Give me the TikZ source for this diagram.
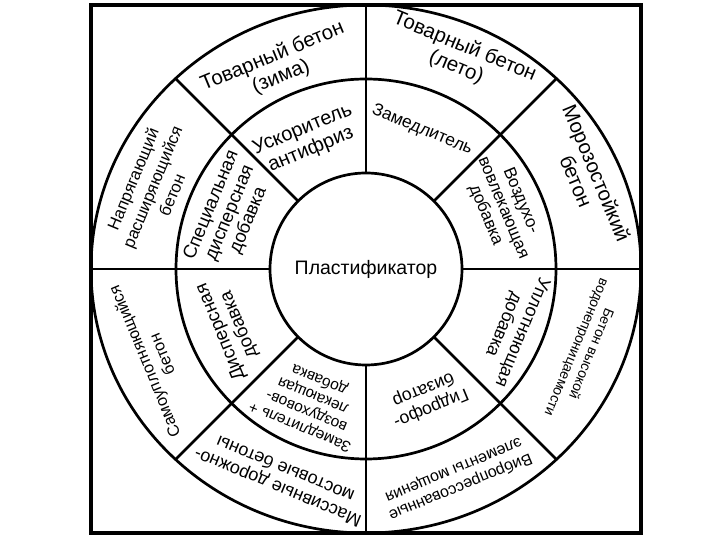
\documentclass[tikz,border=0pt]{standalone}
\usepackage{fontspec}
\setmainfont{Liberation Sans}
\newcommand{\fs}[2]{\fontsize{#1}{#2}\selectfont}
\begin{document}
\begin{tikzpicture}[x=1pt,y=1pt,
  ln/.style={line width=2.7pt},
  frame/.style={line width=3.6pt},
  lbl/.style={align=center, inner sep=0pt}]
\useasboundingbox (0,0) rectangle (720,540);
\coordinate (O) at (366,271);
\coordinate (fl) at (91,271);
\coordinate (fr) at (641,271);
\coordinate (ft) at (366,535);
\coordinate (fb) at (366,7);
% frame and rings
\draw[frame] (91,7) rectangle (641,535);
\draw[ln] (O) ellipse [x radius=275, y radius=264];
\draw[ln] (O) circle [radius=190];
\draw[ln] (O) circle [radius=96];
% radial dividers
\foreach \a in {45,135,225,315}
  \draw[ln] ([shift={(\a:96)}]O) -- ([shift={(\a:269.3)}]O);
\draw[ln] ([shift={(0:96)}]O) -- (fr);
\draw[ln] ([shift={(90:96)}]O) -- (ft);
\draw[ln] ([shift={(180:96)}]O) -- (fl);
\draw[ln] ([shift={(270:96)}]O) -- (fb);
% centre
\node[lbl, font=\fs{19.5}{21}] (c) at (O) {Пластификатор};
% outer ring
\node[lbl, rotate=22.5, font=\fs{20.5}{22}] (t1) at ([shift={(113.8:221)}]O) {Товарный бетон\\(зима)};
\node[lbl, rotate=-22.5, font=\fs{20.5}{22}] (t2) at ([shift={(66:232)}]O) {Товарный бетон\\(лето)};
\node[lbl, rotate=-67.5, font=\fs{20.5}{22}] (t3) at ([shift={(22.6:239)}]O) {Морозостойкий\\бетон};
\node[lbl, rotate=-112.5, font=\fs{14}{16}] (t4) at ([shift={(-20.5:232)}]O) {Бетон высокой\\водонепроницаемости};
\node[lbl, rotate=-157.5, font=\fs{16}{18}] (t5) at ([shift={(-66.5:228)}]O) {Вибропрессованные\\элементы мощения};
\node[lbl, rotate=157.5, font=\fs{18}{20}] (t6) at ([shift={(-112:226)}]O) {Массивные дорожно-\\мостовые бетоны};
\node[lbl, rotate=112.5, font=\fs{16.3}{19}] (t7) at ([shift={(202.7:231)}]O) {Самоуплотняющийся\\бетон};
\node[lbl, rotate=67.5, font=\fs{16.7}{21}] (t8) at ([shift={(159:229)}]O) {Напрягающий\\расширяющийся\\бетон};
% inner ring
\node[lbl, rotate=22.5, font=\fs{20}{22}] (t9) at ([shift={(114.6:142)}]O) {Ускоритель\\антифриз};
\node[lbl, rotate=-22.5, font=\fs{17.3}{19}] (t10) at ([shift={(68:150)}]O) {Замедлитель};
\node[lbl, rotate=-67.5, font=\fs{17}{19}] (t11) at ([shift={(24:150)}]O) {Воздухо-\\вовлекающая\\добавка};
\node[lbl, rotate=-112.5, font=\fs{18}{20}] (t12) at ([shift={(-22:158)}]O) {Уплотняющая\\добавка};
\node[lbl, rotate=-157.5, font=\fs{17.7}{20}] (t13) at ([shift={(-64.7:143)}]O) {Гидрофо-\\бизатор};
\node[lbl, rotate=157.5, font=\fs{15.5}{17}] (t14) at ([shift={(-112.7:145)}]O) {Замедлитель +\\воздуховов-\\лекающая\\добавка};
\node[lbl, rotate=112.5, font=\fs{18.6}{20}] (t15) at ([shift={(203.5:148)}]O) {Дисперсная\\добавка};
\node[lbl, rotate=67.5, font=\fs{18.6}{20}] (t16) at ([shift={(157.6:147)}]O) {Специальная\\дисперсная\\добавка};
\end{tikzpicture}
\end{document}
